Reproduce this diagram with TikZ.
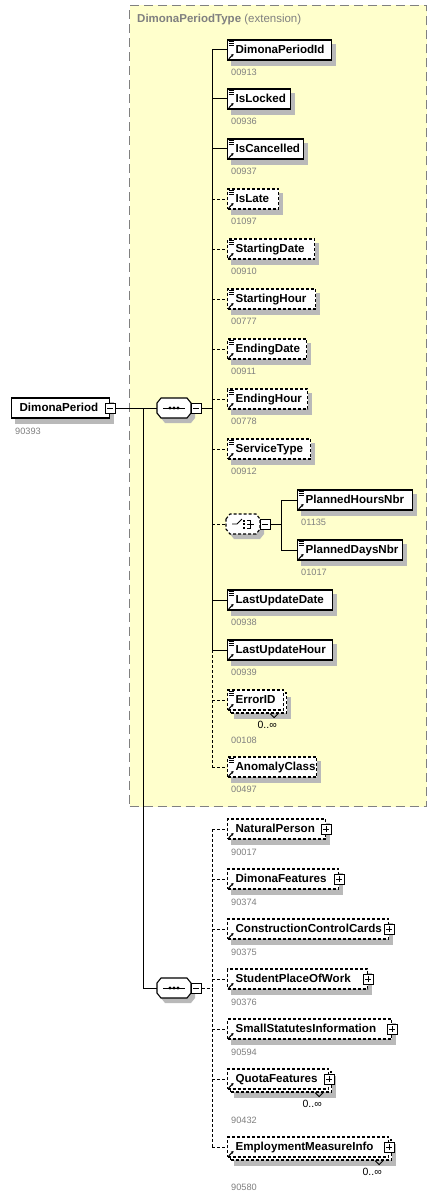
\documentclass[tikz,border=0pt]{standalone}
\usepackage{fontspec}
\setmainfont{Liberation Sans}
\usetikzlibrary{calc,arrows.meta}
\pgfdeclarelayer{back}
\pgfdeclarelayer{shadowlayer}
\pgfsetlayers{back,shadowlayer,main}
\definecolor{extfill}{RGB}{255,255,204}
\definecolor{idgray}{RGB}{128,128,128}
\definecolor{shadowgray}{RGB}{185,185,185}
\newcommand\bx[2]{\makebox[#1pt][l]{\hspace{8pt}#2}}
\newcommand\elfont{\fontsize{11.6}{13}\selectfont\bfseries}
\newcommand\dropsh[1]{%
  \begin{pgfonlayer}{shadowlayer}
  \fill[shadowgray] ($(#1.north west)+(4,5)$) rectangle ($(#1.south east)+(4,5)$);
  \end{pgfonlayer}}
\newcommand\octo[2]{%
  \fill[shadowgray] ($(#1.center)+(4,5)$) ++(-17,-5) -- ++(4,-5) -- ++(26,0) -- ++(4,5) -- ++(0,10) -- ++(-4,5) -- ++(-26,0) -- ++(-4,-5) -- cycle;
  \draw[fill=white, line width=1.1pt, #2] (#1.center) ++(-17,-5) -- ++(4,-5) -- ++(26,0) -- ++(4,5) -- ++(0,10) -- ++(-4,5) -- ++(-26,0) -- ++(-4,-5) -- cycle;}
\newcommand\seqdots[1]{%
  \draw[line width=0.9pt] ($(#1.center)+(-11,0)$) -- ++(22,0);
  \foreach \dx in {-4,0,4} \fill ($(#1.center)+(\dx,0)$) circle (1.7pt);}
\newcommand\eqicon[1]{%
  \foreach \dy in {1.8,3.7,5.6} \draw[line width=0.8pt] ($(#1.north west)+(1.5,\dy)$) -- ++(5,0);}
\newcommand\refarr[1]{%
  \draw[line width=1pt,-{Stealth[length=2.8pt,width=3pt]}] ($(#1.south west)+(1.8,-1.8)$) -- ++(4.8,-4.8);}
\newcommand\notch[1]{%
  \draw[line width=0.9pt] ($(#1.south east)+(-17,0)$) -- ++(4,4) -- ++(4,-4);}
\begin{document}
\begin{tikzpicture}[x=1pt,y=-1pt,
  el/.style={draw, fill=white, line width=1.2pt, inner sep=0pt, minimum height=20pt, anchor=west, font=\elfont, text height=8.5pt, text depth=2.4pt},
  opt/.style={dash pattern=on 3pt off 2pt},
  conn/.style={line width=1pt},
  idlbl/.style={anchor=west, inner sep=0pt, font=\fontsize{9.2}{10}\selectfont, text=idgray},
  card/.style={anchor=east, inner sep=0pt, font=\fontsize{10.5}{12}\selectfont},
  comp/.style={inner sep=0pt, minimum width=34pt, minimum height=20pt},
  mbox/.style={draw, fill=white, line width=0.9pt, minimum size=10pt, inner sep=0pt,
    path picture={\draw[line width=0.9pt] ([xshift=2pt]path picture bounding box.west) -- ([xshift=-2pt]path picture bounding box.east);}},
  pbox/.style={draw, fill=white, line width=0.9pt, minimum size=10pt, inner sep=0pt,
    path picture={\draw[line width=0.9pt] ([xshift=2pt]path picture bounding box.west) -- ([xshift=-2pt]path picture bounding box.east);
                  \draw[line width=0.9pt] ([yshift=-2pt]path picture bounding box.north) -- ([yshift=2pt]path picture bounding box.south);}},
]
\useasboundingbox (0,0) rectangle (444,1201);
\begin{pgfonlayer}{back}
\fill[white] (0,0) rectangle (444,1201);
\node[draw=idgray, line width=1pt, dash pattern=on 9pt off 5pt, fill=extfill, anchor=north west,
      minimum width=297pt, minimum height=801pt, inner sep=0pt] (ext) at (129,5) {};
\node[anchor=west, inner sep=0pt, text=idgray, font=\fontsize{11.5}{13}\selectfont] (title) at (137,20)
  {\textbf{DimonaPeriodType} (extension)};
\end{pgfonlayer}

% root element
\node[el] (dp) at (11,408) {\bx{98}{DimonaPeriod}};
\dropsh{dp}
\node[mbox] (dpm) at (dp.east) {};
\node[idlbl] (dpid) at (15,431) {90393};

% compositors
\node[comp] (seq1) at (174,408) {};
\octo{seq1}{}
\seqdots{seq1}
\node[mbox] (seq1m) at ($(seq1.east)+(5,0)$) {};

\node[comp] (seq2) at (174,988) {};
\octo{seq2}{}
\seqdots{seq2}
\node[mbox] (seq2m) at ($(seq2.east)+(5,0)$) {};

\node[comp] (ch) at (243,524) {};
\octo{ch}{opt}
\draw[line width=0.9pt] ($(ch.center)+(-11,0)$) -- ++(5,0) -- ++(5,-5);
\foreach \dy in {-3.5,0,3.5} \fill ($(ch.center)+(1,\dy)-(1,1)$) rectangle ++(2,2);
\draw[line width=0.9pt] ($(ch.center)+(4,-4)$) -- ++(3,0) -- ++(0,8) -- ++(-3,0);
\draw[line width=0.9pt] ($(ch.center)+(4,0)$) -- ++(7,0);
\node[mbox] (chm) at ($(ch.east)+(5,0)$) {};

% group 1 elements
\node[el] (e1) at (227,50) {\bx{104}{DimonaPeriodId}};
\node[el] (e2) at (227,99) {\bx{63}{IsLocked}};
\node[el] (e3) at (227,149) {\bx{76}{IsCancelled}};
\node[el, opt] (e4) at (227,199) {\bx{51}{IsLate}};
\node[el, opt] (e5) at (227,249) {\bx{87}{StartingDate}};
\node[el, opt] (e6) at (227,299) {\bx{88}{StartingHour}};
\node[el, opt] (e7) at (227,349) {\bx{79}{EndingDate}};
\node[el, opt] (e8) at (227,399) {\bx{80}{EndingHour}};
\node[el, opt] (e9) at (227,449) {\bx{83}{ServiceType}};
\node[el] (e10) at (227,600) {\bx{105}{LastUpdateDate}};
\node[el] (e11) at (227,650) {\bx{105}{LastUpdateHour}};
\node[el, opt] (e12b) at (230,703) {\bx{56}{}};
\node[el, opt] (e12) at (227,700) {\bx{56}{ErrorID}};
\node[el, opt] (e13) at (227,767) {\bx{89}{AnomalyClass}};
\node[el] (c1) at (297,500) {\bx{115}{PlannedHoursNbr}};
\node[el] (c2) at (297,550) {\bx{105}{PlannedDaysNbr}};
\foreach \n in {e1,e2,e3,e4,e5,e6,e7,e8,e9,e10,e11,e12b,e13,c1,c2} {\dropsh{\n}}
\foreach \n in {e1,e2,e3,e4,e5,e6,e7,e8,e9,e10,e11,e12,e13,c1,c2} {\eqicon{\n}\refarr{\n}}
\notch{e12b}
\node[card] (e12c) at (277,725) {0..∞};

% group 1 ids
\node[idlbl] (i1) at (231,72) {00913};
\node[idlbl] (i2) at (231,121) {00936};
\node[idlbl] (i3) at (231,171) {00937};
\node[idlbl] (i4) at (231,221) {01097};
\node[idlbl] (i5) at (231,271) {00910};
\node[idlbl] (i6) at (231,321) {00777};
\node[idlbl] (i7) at (231,371) {00911};
\node[idlbl] (i8) at (231,421) {00778};
\node[idlbl] (i9) at (231,471) {00912};
\node[idlbl] (i10) at (231,622) {00938};
\node[idlbl] (i11) at (231,672) {00939};
\node[idlbl] (i12) at (231,740) {00108};
\node[idlbl] (i13) at (231,789) {00497};
\node[idlbl] (ic1) at (301,522) {01135};
\node[idlbl] (ic2) at (301,572) {01017};

% group 2 elements
\node[el, opt] (g1) at (227,829) {\bx{98}{NaturalPerson}};
\node[el, opt] (g2) at (227,879) {\bx{111}{DimonaFeatures}};
\node[el, opt] (g3) at (227,929) {\bx{161}{ConstructionControlCards}};
\node[el, opt] (g4) at (227,979) {\bx{140}{StudentPlaceOfWork}};
\node[el, opt] (g5) at (227,1029) {\bx{164}{SmallStatutesInformation}};
\node[el, opt] (g6b) at (230,1082) {\bx{101}{}};
\node[el, opt] (g6) at (227,1079) {\bx{101}{QuotaFeatures}};
\node[el, opt] (g7b) at (230,1150) {\bx{161}{}};
\node[el, opt] (g7) at (227,1147) {\bx{161}{EmploymentMeasureInfo}};
\foreach \n in {g1,g2,g3,g4,g5,g6b,g7b} {\dropsh{\n}}
\foreach \n in {g1,g2,g3,g4,g5,g6,g7} {\refarr{\n}\node[pbox] (\n p) at (\n.east) {};}
\notch{g6b}
\notch{g7b}
\node[card] (g6c) at (322,1104) {0..∞};
\node[card] (g7c) at (382,1172) {0..∞};

\node[idlbl] (j1) at (231,852) {90017};
\node[idlbl] (j2) at (231,902) {90374};
\node[idlbl] (j3) at (231,952) {90375};
\node[idlbl] (j4) at (231,1002) {90376};
\node[idlbl] (j5) at (231,1052) {90594};
\node[idlbl] (j6) at (231,1120) {90432};
\node[idlbl] (j7) at (231,1187) {90580};

% connectors
\coordinate (br) at (143,408);
\coordinate (sp1) at (212,408);
\coordinate (sp2) at (212,988);
\coordinate (sp3) at (281,524);
\draw[conn] (dpm.east) -- (seq1.west);
\draw[conn] (br) |- (seq2.west);
\draw[conn] (seq1m.east) -- (sp1);
\draw[conn] (e1.west -| sp1) -- (e11.west -| sp1);
\draw[conn, opt] (e11.west -| sp1) -- (e13.west -| sp1);
\foreach \n in {e1,e2,e3,e10,e11} \draw[conn] (\n.west -| sp1) -- (\n.west);
\foreach \n in {e4,e5,e6,e7,e8,e9,e12,e13,ch} \draw[conn, opt] (\n.west -| sp1) -- (\n.west);
\draw[conn] (chm.east) -- (sp3);
\draw[conn] (c1.west -| sp3) -- (c2.west -| sp3);
\foreach \n in {c1,c2} \draw[conn] (\n.west -| sp3) -- (\n.west);
\draw[conn, opt] (seq2m.east) -- (sp2);
\draw[conn, opt] (g1.west -| sp2) -- (g7.west -| sp2);
\foreach \n in {g1,g2,g3,g4,g5,g6,g7} \draw[conn, opt] (\n.west -| sp2) -- (\n.west);
\end{tikzpicture}
\end{document}
